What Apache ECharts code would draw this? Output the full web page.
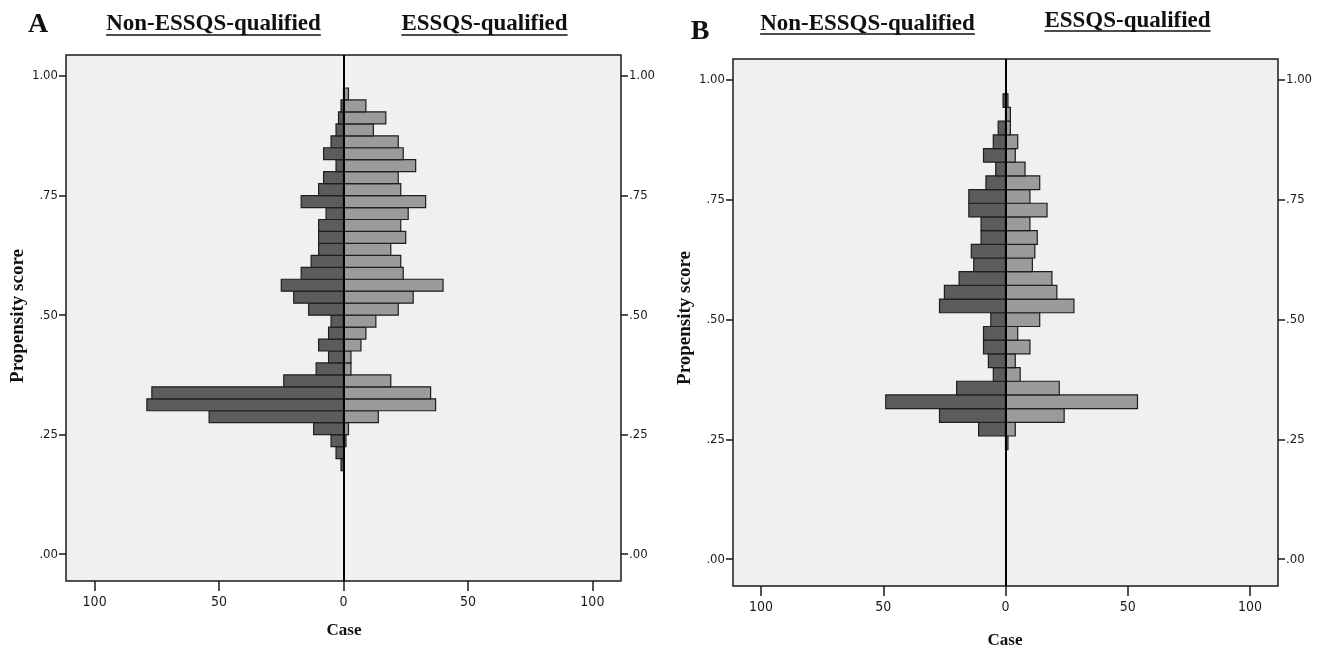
<!DOCTYPE html>
<html><head><meta charset="utf-8">
<script src="https://cdn.jsdelivr.net/npm/echarts@6/dist/echarts.min.js"></script>
<style>html,body{margin:0;padding:0;background:#fff}#c{width:1320px;height:653px}</style>
</head><body><div id="c"></div>
<script>
// Panel A: bins of width 0.025 (edges listed bottom to top)
const edgesA = [0.175,0.2,0.225,0.25,0.275,0.3,0.325,0.35,0.375,0.4,0.425,0.45,0.475,0.5,0.525,0.55,0.575,0.6,0.625,0.65,0.675,0.7,0.725,0.75,0.775,0.8,0.825,0.85,0.875,0.9,0.925,0.95,0.975];
const nonA = [1,3,5,12,54,79,77,24,11,6,10,6,5,14,20,25,17,13,10,10,10,7,17,10,8,3,8,5,3,2,1,0];
const essA = [0,0,1,2,14,37,35,19,3,3,7,9,13,22,28,40,24,23,19,25,23,26,33,23,22,29,24,22,12,17,9,2];
// Panel B: bins of width 1/35 (edges listed bottom to top)
const edgesB = [0.2286,0.2571,0.2857,0.3143,0.3429,0.3714,0.4000,0.4286,0.4571,0.4857,0.5143,0.5429,0.5714,0.6000,0.6286,0.6571,0.6857,0.7143,0.7429,0.7714,0.8000,0.8286,0.8571,0.8857,0.9143,0.9429,0.9714];
const nonB = [0,11,27,49,20,5,7,9,9,6,27,25,19,13,14,10,10,15,15,8,4,9,5,3,0,1];
const essB = [1,4,24,54,22,6,4,10,5,14,28,21,19,11,12,13,10,17,10,14,8,4,5,2,2,1];
const xTicks = [-100,-50,0,50,100];
const yTicks = [0,0.25,0.5,0.75,1];
const groupLeft = 'Non-ESSQS-qualified', groupRight = 'ESSQS-qualified';

const SERIF = "'Liberation Serif','Times New Roman',serif";
const NARROW = "'Liberation Sans Narrow','Arial Narrow','DejaVu Sans Condensed','Liberation Sans',sans-serif";

function rows(edges, counts, sign){
  const out = [];
  for (let i=0;i<counts.length;i++) out.push([edges[i], edges[i+1], sign*counts[i]]);
  return out;
}
function makeRender(fill){
  return function(params, api){
    const lo = api.value(0), hi = api.value(1), v = api.value(2);
    if (!v) return null;
    const p1 = api.coord([v, hi]), p0 = api.coord([0, lo]);
    const x = Math.min(p0[0], p1[0]), w = Math.abs(p1[0]-p0[0]);
    return {type:'rect', shape:{x:x, y:p1[1], width:w, height:p0[1]-p1[1]},
      style:{fill:fill, stroke:'#1e1e1e', lineWidth:1.2}};
  };
}
const grids = [
  {left:66, top:55, width:555, height:526},
  {left:733, top:59, width:545, height:527}
];
const yFmt = v => v===1 ? '1.00' : v.toFixed(2).replace(/^0/,'');
const xAxes = [], yAxes = [], series = [];
grids.forEach((g,i)=>{
  xAxes.push({gridIndex:i, type:'value', position:'bottom', min:-111.5, max:111.5,
    axisLine:{show:false, onZero:false}, splitLine:{show:false},
    axisTick:{show:true, inside:false, customValues:xTicks, length:10, lineStyle:{color:'#1a1a1a', width:1.5}},
    axisLabel:{customValues:xTicks, formatter:v=>String(Math.abs(v)), margin:14, color:'#1a1a1a', fontSize:14, fontFamily:NARROW}});
  ['left','right'].forEach(pos=>{
    yAxes.push({gridIndex:i, type:'value', position:pos, min:-0.056, max:1.044,
      axisLine:{show:false, onZero:false}, splitLine:{show:false},
      axisTick:{show:true, inside:false, customValues:yTicks, length:7, lineStyle:{color:'#1a1a1a', width:1.5}},
      axisLabel:{customValues:yTicks, formatter:yFmt, margin:8, color:'#1a1a1a', fontSize:13, fontFamily:NARROW}});
  });
});
const panels = [[edgesA, nonA, essA],[edgesB, nonB, essB]];
panels.forEach((p,i)=>{
  series.push({type:'custom', name:groupLeft, xAxisIndex:i, yAxisIndex:2*i, renderItem:makeRender('#5c5c5c'),
    encode:{x:2, y:[0,1]}, data:rows(p[0], p[1], -1), z:2});
  series.push({type:'custom', name:groupRight, xAxisIndex:i, yAxisIndex:2*i, renderItem:makeRender('#9b9b9b'),
    encode:{x:2, y:[0,1]}, data:rows(p[0], p[2], 1), z:2,
    markLine:{silent:true, symbol:'none', label:{show:false}, lineStyle:{color:'#000', width:2, type:'solid'},
      data:[{xAxis:0}], z:5}});
});

const ctx = document.createElement('canvas').getContext('2d');
function tw(text, font){ ctx.font = font; return ctx.measureText(text).width; }
const hFont = 'bold 23px ' + SERIF;
function header(text, cx, cy, uy){
  const w = tw(text, hFont);
  return [
    {type:'text', left:cx - w/2, top:cy - 9, style:{text:text, font:hFont, fill:'#111'}},
    {type:'line', shape:{x1:cx - w/2, y1:uy, x2:cx + w/2, y2:uy}, style:{stroke:'#111', lineWidth:1.5}}
  ];
}
function centered(text, font, cx, cy, rot){
  return {type:'text', x:cx, y:cy, rotation:rot||0,
    style:{text:text, font:font, fill:'#111', align:'center', verticalAlign:'middle'}};
}
const graphic = [].concat(
  [centered('A', 'bold 28px ' + SERIF, 38, 25)],
  header(groupLeft, 213.5, 22, 35), header(groupRight, 484.5, 22, 35),
  [centered('B', 'bold 28px ' + SERIF, 700, 32)],
  header(groupLeft, 867.5, 22, 34), header(groupRight, 1127.5, 19, 31),
  [centered('Propensity score', 'bold 19px ' + SERIF, 18, 316, Math.PI/2),
   centered('Propensity score', 'bold 19px ' + SERIF, 685, 318, Math.PI/2),
   centered('Case', 'bold 17px ' + SERIF, 344, 631),
   centered('Case', 'bold 17px ' + SERIF, 1005, 641)]
);

const chart = echarts.init(document.getElementById('c'), null, {renderer:'canvas'});
chart.setOption({
  animation:false,
  backgroundColor:'#fff',
  grid: grids.map(g=>Object.assign({show:true, backgroundColor:'#f0f0f0', borderColor:'#1a1a1a', borderWidth:1.5}, g)),
  xAxis:xAxes, yAxis:yAxes, series:series, graphic:graphic
});
</script></body></html>
